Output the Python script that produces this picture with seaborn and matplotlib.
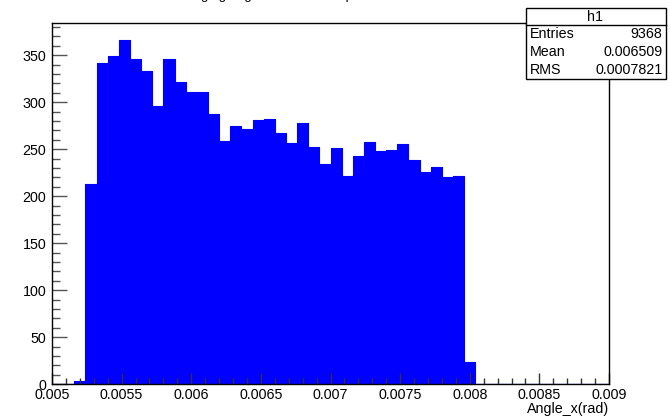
import numpy as np
import pandas as pd
import matplotlib
matplotlib.use("Agg")
import matplotlib.pyplot as plt
import seaborn as sns
from matplotlib.patches import Rectangle
from matplotlib.lines import Line2D
from matplotlib.ticker import MultipleLocator

# ---- data ----
x_low = 0.005
x_high = 0.009
n_bins = 50
counts = [0, 0, 3, 213, 342, 349, 366, 346, 333, 296,
          346, 322, 311, 311, 287, 259, 275, 272, 281, 282,
          267, 257, 278, 252, 234, 251, 222, 243, 258, 248,
          249, 256, 239, 226, 231, 221, 222, 24, 0, 0,
          0, 0, 0, 0, 0, 0, 0, 0, 0, 0]
x_ticks = [0.005, 0.0055, 0.006, 0.0065, 0.007, 0.0075, 0.008, 0.0085, 0.009]
x_tick_labels = ["0.005", "0.0055", "0.006", "0.0065", "0.007", "0.0075", "0.008", "0.0085", "0.009"]
y_ticks = [0, 50, 100, 150, 200, 250, 300, 350]
stats_name = "h1"
stats_rows = [("Entries", "9368"), ("Mean", "0.006509"), ("RMS", "0.0007821")]
x_label = "Angle_x(rad)"
title = "Diverging angle of the beam spot"

edges = np.linspace(x_low, x_high, n_bins + 1)
centers = 0.5 * (edges[:-1] + edges[1:])
df = pd.DataFrame({"angle": centers, "count": counts})

W, H = 670, 419
plt.rcParams["font.family"] = ["Liberation Sans", "DejaVu Sans"]
fig = plt.figure(figsize=(W / 100, H / 100), dpi=100)
fig.patch.set_facecolor("white")


def fx(px):
    return px / W


def fy(py):
    return 1 - py / H


left, right, top, bottom = 52, 609, 23, 384.3
ax = fig.add_axes([fx(left), fy(bottom), fx(right - left), (bottom - top) / H])

sns.histplot(data=df, x="angle", weights="count", bins=n_bins, binrange=(x_low, x_high),
             element="step", fill=True, color="#0000ff", alpha=1, linewidth=0.8, ax=ax)

ax.set_xlim(x_low, x_high)
ax.set_ylim(0, 1.05 * max(counts))
ax.set_xticks(x_ticks)
ax.set_xticklabels(x_tick_labels)
ax.set_yticks(y_ticks)
ax.xaxis.set_minor_locator(MultipleLocator(0.0001))
ax.yaxis.set_minor_locator(MultipleLocator(10))
ax.set_xlabel("")
ax.set_ylabel("")
ax.set_facecolor("white")
for s in ax.spines.values():
    s.set_color("black")
    s.set_linewidth(1)
ax.tick_params(axis="x", which="major", direction="in", length=7.7, width=1,
               labelsize=10.3, pad=3, color="#333333")
ax.tick_params(axis="x", which="minor", direction="in", length=4.3, width=1, color="#333333")
ax.tick_params(axis="y", which="major", direction="in", length=10.8, width=1,
               labelsize=10.3, pad=4, color="#555555")
ax.tick_params(axis="y", which="minor", direction="in", length=5.5, width=1, color="#555555")
ax.grid(False)

# axis title, right aligned under the x axis
fig.text(fx(609), fy(409), x_label, ha="right", va="center", fontsize=10.3)

# title mostly cut off at the top edge (as in the reference)
fig.text(fx(170), fy(-1.0), title, ha="left", va="baseline", fontsize=9.5)

# stats box
bx0, bx1, by0, by1, ysep = 525.5, 665.5, 8.3, 79.3, 25
box = Rectangle((fx(bx0), fy(by1)), fx(bx1 - bx0), (by1 - by0) / H,
                transform=fig.transFigure, facecolor="white", edgecolor="black",
                linewidth=1, zorder=10)
fig.add_artist(box)
fig.add_artist(Line2D([fx(bx0), fx(bx1)], [fy(ysep), fy(ysep)],
                      transform=fig.transFigure, color="black", linewidth=1, zorder=11))
fig.text(fx((bx0 + bx1) / 2), fy((by0 + ysep) / 2), stats_name, ha="center", va="center",
         fontsize=10.3, zorder=12)
row_h = (by1 - ysep) / len(stats_rows)
for i, (k, v) in enumerate(stats_rows):
    yc = ysep + row_h * (i + 0.5)
    fig.text(fx(bx0 + 4), fy(yc), k, ha="left", va="center", fontsize=10.3, zorder=12)
    fig.text(fx(bx1 - 3), fy(yc), v, ha="right", va="center", fontsize=10.3, zorder=12)

fig.savefig("out.png", dpi=100, facecolor="white")
